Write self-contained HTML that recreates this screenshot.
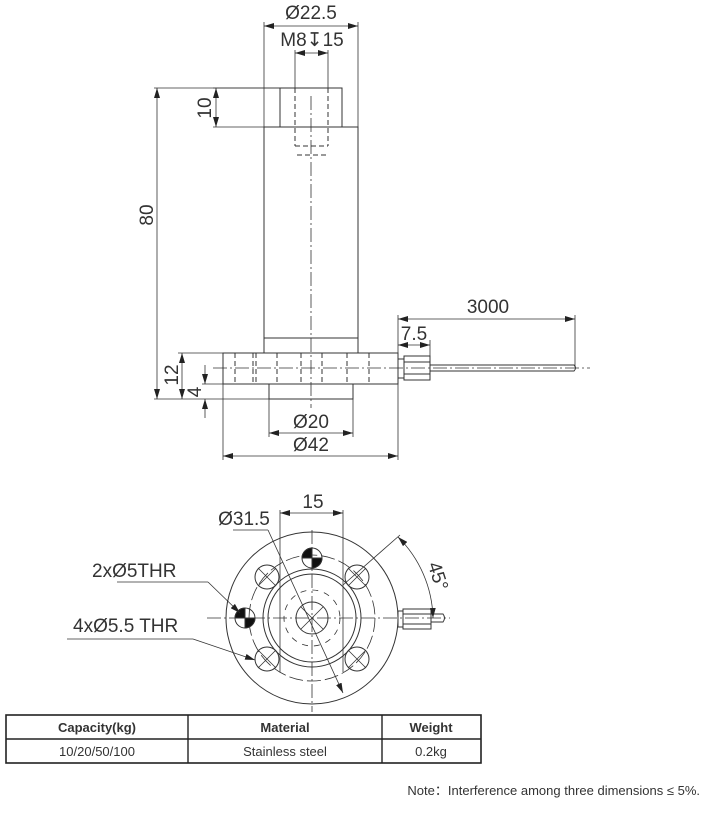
<!DOCTYPE html>
<html><head><meta charset="utf-8"><style>
html,body{margin:0;padding:0;background:#fff;}
svg{display:block;}
text{font-family:"Liberation Sans",sans-serif;fill:#333;}
</style></head><body>
<svg width="708" height="819" viewBox="0 0 708 819" xmlns="http://www.w3.org/2000/svg">
<defs>
<marker id="a" viewBox="0 0 10 6" refX="10" refY="3" markerWidth="10" markerHeight="6" orient="auto-start-reverse" markerUnits="userSpaceOnUse"><path d="M0,0 L10,3 L0,6 z" fill="#222"/></marker>
</defs>
<g stroke="#333" stroke-width="1" fill="none">
<!-- top view body -->
<rect x="280" y="88" width="62" height="39"/>
<rect x="264" y="127" width="94" height="226"/>
<line x1="264" y1="338" x2="358" y2="338"/>
<rect x="223" y="353" width="175" height="31"/>
<rect x="269" y="384" width="84" height="15"/>
<!-- hidden lines -->
<g stroke-dasharray="5,3">
<line x1="295" y1="88" x2="295" y2="146"/><line x1="328" y1="88" x2="328" y2="146"/>
<line x1="295" y1="146" x2="328" y2="146"/>
<line x1="297" y1="155" x2="327" y2="155"/>
<line x1="235" y1="353" x2="235" y2="384"/><line x1="253" y1="353" x2="253" y2="384"/>
<line x1="256" y1="353" x2="256" y2="384"/><line x1="277" y1="353" x2="277" y2="384"/>
<line x1="301" y1="353" x2="301" y2="384"/><line x1="322" y1="353" x2="322" y2="384"/>
<line x1="347" y1="353" x2="347" y2="384"/><line x1="369" y1="353" x2="369" y2="384"/>
</g>
<g stroke-dasharray="14,3,2,3" stroke-width="0.8">
<line x1="311" y1="96" x2="311" y2="408"/>
<line x1="213" y1="368" x2="590" y2="368"/>
</g>
<!-- connector -->
<rect x="398" y="359" width="6" height="19"/>
<rect x="404" y="356" width="26" height="24"/>
<line x1="404" y1="362" x2="430" y2="362"/><line x1="404" y1="374" x2="430" y2="374"/>
<path d="M430,365 L574,365 Q577,368 574,371 L430,371"/>
<!-- dims top -->
<g stroke-width="0.8">
<line x1="264" y1="22" x2="264" y2="127"/><line x1="358" y1="22" x2="358" y2="127"/>
<line x1="264" y1="26" x2="358" y2="26" marker-start="url(#a)" marker-end="url(#a)"/>
<line x1="295" y1="50" x2="295" y2="88"/><line x1="328" y1="50" x2="328" y2="88"/>
<line x1="295" y1="53" x2="328" y2="53" marker-start="url(#a)" marker-end="url(#a)"/>
<line x1="213" y1="88" x2="280" y2="88"/><line x1="213" y1="127" x2="264" y2="127"/>
<line x1="216" y1="88" x2="216" y2="127" marker-start="url(#a)" marker-end="url(#a)"/>
<line x1="154" y1="88" x2="280" y2="88"/>
<line x1="154" y1="399" x2="269" y2="399"/>
<line x1="157" y1="88" x2="157" y2="399" marker-start="url(#a)" marker-end="url(#a)"/>
<line x1="178" y1="353" x2="223" y2="353"/><line x1="202" y1="384" x2="223" y2="384"/>
<line x1="182" y1="353" x2="182" y2="399" marker-start="url(#a)" marker-end="url(#a)"/>
<line x1="205" y1="365" x2="205" y2="384" marker-end="url(#a)"/>
<line x1="205" y1="418" x2="205" y2="399" marker-end="url(#a)"/>
<line x1="269" y1="399" x2="269" y2="437"/><line x1="353" y1="399" x2="353" y2="437"/>
<line x1="269" y1="433" x2="353" y2="433" marker-start="url(#a)" marker-end="url(#a)"/>
<line x1="223" y1="384" x2="223" y2="460"/><line x1="398" y1="384" x2="398" y2="460"/>
<line x1="223" y1="456" x2="398" y2="456" marker-start="url(#a)" marker-end="url(#a)"/>
<line x1="398" y1="315" x2="398" y2="356"/><line x1="575" y1="315" x2="575" y2="366"/>
<line x1="398" y1="319" x2="575" y2="319" marker-start="url(#a)" marker-end="url(#a)"/>
<line x1="430" y1="340" x2="430" y2="356"/>
<line x1="398" y1="345" x2="430" y2="345" marker-start="url(#a)" marker-end="url(#a)"/>
</g>
<!-- bottom view -->
<circle cx="312" cy="618" r="86"/>
<circle cx="312" cy="618" r="49"/>
<circle cx="312" cy="618" r="44"/>
<circle cx="312" cy="618" r="16"/>
<circle cx="312" cy="618" r="63" stroke-dasharray="14,4" stroke-width="0.8"/>
<circle cx="312" cy="618" r="28" stroke-dasharray="6,6" stroke-width="0.8"/>
<circle cx="267" cy="577" r="12"/><circle cx="357" cy="577" r="12"/>
<circle cx="267" cy="659" r="12"/><circle cx="357" cy="659" r="12"/>
<g stroke-width="0.8">
<line x1="258" y1="568" x2="276" y2="586"/><line x1="258" y1="586" x2="276" y2="568"/>
<line x1="348" y1="568" x2="366" y2="586"/><line x1="348" y1="586" x2="366" y2="568"/>
<line x1="258" y1="650" x2="276" y2="668"/><line x1="258" y1="668" x2="276" y2="650"/>
<line x1="348" y1="650" x2="366" y2="668"/><line x1="348" y1="668" x2="366" y2="650"/>
<line x1="301" y1="607" x2="323" y2="629"/><line x1="301" y1="629" x2="323" y2="607"/>
</g>
<circle cx="312" cy="558" r="10"/>
<path d="M302,558 A10,10 0 0 1 312,548 L312,558 Z M322,558 A10,10 0 0 1 312,568 L312,558 Z" fill="#111"/>
<circle cx="245" cy="618" r="10"/>
<path d="M235,618 A10,10 0 0 1 245,608 L245,618 Z M255,618 A10,10 0 0 1 245,628 L245,618 Z" fill="#111"/>
<g stroke-dasharray="14,3,2,3" stroke-width="0.8">
<line x1="312" y1="530" x2="312" y2="712"/>
<line x1="207" y1="618" x2="450" y2="618"/>
</g>
<rect x="398" y="611" width="5" height="16"/>
<rect x="403" y="609" width="28" height="20"/>
<line x1="403" y1="614" x2="431" y2="614"/><line x1="403" y1="624" x2="431" y2="624"/>
<path d="M431,614 L443,614 Q446,618 443,622 L431,622"/>
<g stroke-width="0.8">
<line x1="280" y1="510" x2="280" y2="672"/><line x1="343" y1="510" x2="343" y2="672"/>
<line x1="280" y1="513" x2="343" y2="513" marker-start="url(#a)" marker-end="url(#a)"/>
<line x1="233" y1="530" x2="268" y2="530"/>
<line x1="268" y1="530" x2="343" y2="693" marker-end="url(#a)"/>
<line x1="343" y1="585" x2="400" y2="535"/>
<path d="M398,537 A118,118 0 0 1 433,618" marker-start="url(#a)" marker-end="url(#a)"/>
<line x1="117" y1="582" x2="208" y2="582"/>
<line x1="208" y1="582" x2="240" y2="613" marker-end="url(#a)"/>
<line x1="67" y1="639" x2="193" y2="639"/>
<line x1="193" y1="639" x2="255" y2="660" marker-end="url(#a)"/>
</g>
<!-- table -->
<rect x="6" y="715" width="475" height="48" stroke="#222" stroke-width="1.6"/>
<line x1="6" y1="739" x2="481" y2="739" stroke="#222" stroke-width="1.4"/>
<line x1="188" y1="715" x2="188" y2="763" stroke="#222" stroke-width="1.4"/>
<line x1="382" y1="715" x2="382" y2="763" stroke="#222" stroke-width="1.4"/>
</g>
<g font-size="19" text-anchor="middle">
<text x="311" y="19">Ø22.5</text>
<text x="312" y="46">M8↧15</text>
<text x="0" y="0" transform="translate(211,108) rotate(-90)">10</text>
<text x="0" y="0" transform="translate(153,215) rotate(-90)">80</text>
<text x="0" y="0" transform="translate(178,375) rotate(-90)">12</text>
<text x="0" y="0" transform="translate(201,392) rotate(-90)">4</text>
<text x="311" y="428">Ø20</text>
<text x="311" y="451">Ø42</text>
<text x="488" y="313">3000</text>
<text x="414" y="340">7.5</text>
<text x="313" y="508">15</text>
<text x="244" y="525">Ø31.5</text>
<text x="0" y="0" transform="translate(432,578) rotate(72)">45°</text>
</g>
<g font-size="19">
<text x="92" y="577">2xØ5THR</text>
<text x="73" y="632">4xØ5.5 THR</text>
</g>
<g font-size="13" text-anchor="middle" fill="#222">
<text x="97" y="732" font-weight="bold">Capacity(kg)</text>
<text x="285" y="732" font-weight="bold">Material</text>
<text x="431" y="732" font-weight="bold">Weight</text>
<text x="97" y="756">10/20/50/100</text>
<text x="285" y="756">Stainless steel</text>
<text x="431" y="756">0.2kg</text>
</g>
<text x="700" y="795" font-size="13" text-anchor="end">Note：Interference among three dimensions ≤ 5%.</text>
</svg>
</body></html>
